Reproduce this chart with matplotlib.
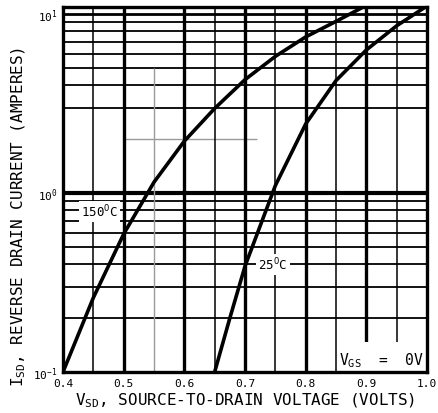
import matplotlib
matplotlib.use("Agg")
import matplotlib.pyplot as plt
from matplotlib.patches import Rectangle

# ---- data ----
v_150 = [0.40, 0.45, 0.50, 0.55, 0.60, 0.65, 0.70, 0.75, 0.80, 0.85, 0.895]
i_150 = [0.10, 0.26, 0.59, 1.15, 1.95, 2.97, 4.30, 5.80, 7.45, 9.10, 10.95]

v_25 = [0.650, 0.675, 0.70, 0.75, 0.80, 0.85, 0.90, 0.95, 1.00]
i_25 = [0.10, 0.20, 0.39, 1.10, 2.43, 4.25, 6.30, 8.60, 11.10]

x_ticks = [0.4, 0.5, 0.6, 0.7, 0.8, 0.9, 1.0]
x_tick_labels = ["0.4", "0.5", "0.6", "0.7", "0.8", "0.9", "1.0"]
y_ticks = [0.1, 1, 10]
y_tick_labels = [r"$10^{-1}$", r"$10^{0}$", r"$10^{1}$"]

x_major_grid = [0.5, 0.6, 0.7, 0.8, 0.9]
x_minor_grid = [0.45, 0.65, 0.75, 0.85, 0.95]
y_minor_grid = [0.2, 0.3, 0.4, 0.5, 0.6, 0.7, 0.8, 0.9, 3, 4, 5, 6, 7, 8, 9]

label_150 = r"150$^{O}$C"
label_25 = r"25$^{O}$C"

plt.rcParams["font.family"] = ["DejaVu Sans Mono"]
plt.rcParams["mathtext.default"] = "regular"

fig = plt.figure(figsize=(4.39, 4.14), dpi=100)
ax = fig.add_axes([63 / 439, 41 / 414, 364 / 439, 365 / 414])

ax.set_yscale("log")
ax.set_xlim(0.4, 1.0)
ax.set_ylim(0.1, 10.95)

# grid lines
for y in y_minor_grid:
    ax.axhline(y, color="black", lw=1.3, zorder=1)
ax.axhline(1, color="black", lw=3.0, zorder=1)
ax.axhline(10, color="black", lw=2.0, zorder=1)
ax.hlines(2, 0.5, 0.72, color="#9a9a9a", lw=1.0, zorder=1)
for x in x_minor_grid:
    ax.axvline(x, color="black", lw=1.1, zorder=1)
ax.vlines(0.55, 0.1, 5, color="#9a9a9a", lw=1.0, zorder=1)
for x in x_major_grid:
    ax.axvline(x, color="black", lw=2.4, zorder=1)

# curves
ax.plot(v_150, i_150, color="black", lw=2.6, zorder=4, solid_joinstyle="round")
ax.plot(v_25, i_25, color="black", lw=2.6, zorder=4, solid_joinstyle="round")

# labels on curves
ax.text(0.4607, 0.79, label_150, fontsize=9, ha="center", va="center", zorder=3,
        bbox=dict(facecolor="white", edgecolor="none", pad=1.5))
ax.text(0.746, 0.40, label_25, fontsize=9, ha="center", va="center", zorder=3,
        bbox=dict(facecolor="white", edgecolor="none", pad=1.5))

# VGS box
ax.add_patch(Rectangle((0.852, 0.1), 0.148, 0.047, facecolor="white",
                       edgecolor="none", zorder=2))
ax.text(0.925, 0.117, r"V$_{GS}$  =  0V", fontsize=10.5, ha="center", va="center",
        zorder=3)

ax.set_xticks(x_ticks)
ax.set_xticklabels(x_tick_labels, fontsize=8)
ax.set_yticks(y_ticks)
ax.set_yticklabels(y_tick_labels, fontsize=8)
ax.yaxis.set_minor_locator(matplotlib.ticker.NullLocator())
ax.tick_params(axis="x", length=0, pad=4.5)
ax.tick_params(axis="y", length=0, pad=4)

for s in ax.spines.values():
    s.set_linewidth(2.4)
    s.set_zorder(5)

ax.set_xlabel(r"V$_{SD}$, SOURCE-TO-DRAIN VOLTAGE (VOLTS)", fontsize=11.5)
ax.xaxis.set_label_coords(0.5, -0.05)
ax.set_ylabel(r"I$_{SD}$, REVERSE DRAIN CURRENT (AMPERES)", fontsize=11.5)
ax.yaxis.set_label_coords(-0.095, 0.427)

fig.savefig("out.png", dpi=100)
